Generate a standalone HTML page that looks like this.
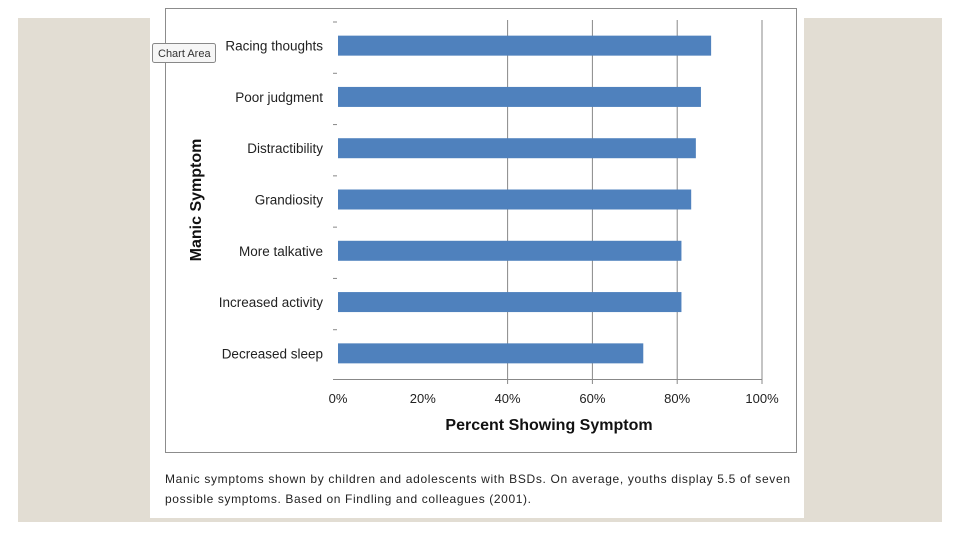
<!DOCTYPE html>
<html><head><meta charset="utf-8"><style>
body{margin:0;width:960px;height:540px;background:#fff;overflow:hidden;position:relative;font-family:"Liberation Sans",sans-serif}
</style></head><body>
<div style="position:absolute;left:18px;top:18px;width:924px;height:504px;background:#e2ddd3"></div>
<div style="position:absolute;left:150px;top:0;width:654px;height:518px;background:#fff"></div>
<svg width="960" height="540" style="position:absolute;left:0;top:0" font-family="Liberation Sans, sans-serif">
<rect x="165.5" y="8.5" width="631" height="444" fill="none" stroke="#8c8c8c"/>
<g id="plot"></g>
<text x="549" y="430" text-anchor="middle" font-size="16" font-weight="bold" fill="#111">Percent Showing Symptom</text>
<text transform="translate(201,200) rotate(-90)" text-anchor="middle" font-size="16" font-weight="bold" fill="#111">Manic Symptom</text>
<text x="165" y="483" font-size="12" fill="#222" textLength="625" lengthAdjust="spacing">Manic symptoms shown by children and adolescents with BSDs. On average, youths display 5.5 of seven</text>
<text x="165" y="503" font-size="12" fill="#222" textLength="366" lengthAdjust="spacing">possible symptoms. Based on Findling and colleagues (2001).</text>
<g>
<rect x="152.5" y="43.5" width="63" height="19" fill="#f6f6f6" stroke="#888" rx="2"/>
<text x="158" y="57" font-size="11" fill="#333">Chart Area</text>
</g>
</svg>
<script>
const categories=["Racing thoughts","Poor judgment","Distractibility","Grandiosity","More talkative","Increased activity","Decreased sleep"];
const values=[0.88,0.856,0.844,0.833,0.81,0.81,0.72];
const ticks=[0,0.2,0.4,0.6,0.8,1.0];
const tickLabels=["0%","20%","40%","60%","80%","100%"];
const gridTicks=[0.4,0.6,0.8,1.0];
const NS="http://www.w3.org/2000/svg";
const g=document.getElementById('plot');
const X0=338,X1=762,Y0=20,Y1=379;
const band=(Y1-Y0)/categories.length;
const x=v=>X0+v*(X1-X0);
const yc=i=>Y0+band*(i+0.5);
function mk(t,a){const e=document.createElementNS(NS,t);for(const k in a)e.setAttribute(k,a[k]);g.appendChild(e);return e;}
gridTicks.forEach(t=>{const l=mk('line',{x1:x(t),x2:x(t),y1:Y0,y2:Y1+5,stroke:'#888'});

});
const ax=mk('line',{x1:333,x2:X1,y1:Y1+.5,y2:Y1+.5,stroke:'#888'});


ticks.forEach((t,i)=>{const tx=mk('text',{x:x(t),y:403,'text-anchor':'middle','font-size':13,fill:'#222'});tx.textContent=tickLabels[i];

});
categories.forEach((c,i)=>{
const d=mk('line',{x1:333,x2:337,y1:Y0+band*i+2,y2:Y0+band*i+2,stroke:'#888'});


const b=mk('rect',{x:X0,y:yc(i)-10,width:x(values[i])-X0,height:20,fill:'#4f81bd'});


const t=mk('text',{x:323,y:yc(i)+5,'text-anchor':'end','font-size':13.5,fill:'#222'});t.textContent=c;


});
</script>
</body></html>
